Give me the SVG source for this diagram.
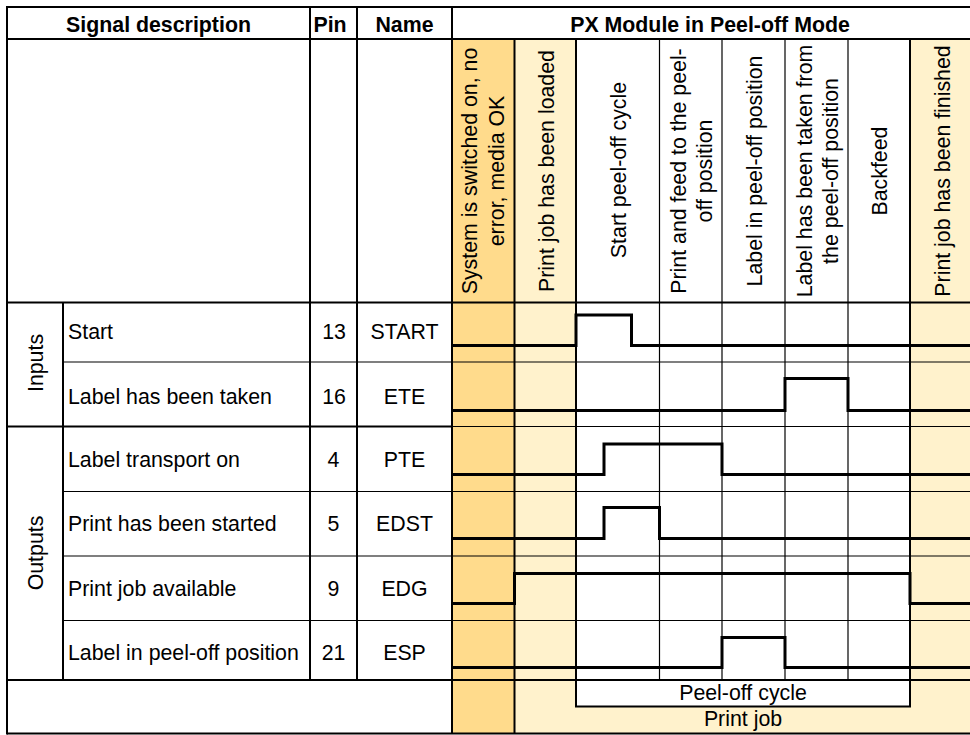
<svg xmlns="http://www.w3.org/2000/svg" width="970" height="735" viewBox="0 0 970 735">
  <style>
    .t { font-family: "Liberation Sans", Arial, sans-serif; font-size: 21.33px; fill: #000; }
    .b { font-weight: bold; }
    .m { text-anchor: middle; }
    .thick { stroke: #000; stroke-width: 2; fill: none; }
    .thin { stroke: #000; stroke-width: 1.2; fill: none; }
    .sig { stroke: #000; stroke-width: 3; fill: none; stroke-linejoin: miter; }
    .orange { fill: #FFDB8C; }
    .light { fill: #FFF2CC; }
  </style>

  <rect x="0" y="0" width="970" height="735" fill="#fff"/>

  <!-- background fills -->
  <g id="fills">
    <rect class="orange" x="452" y="39" width="62.5" height="695"/>
    <rect class="light" x="514.5" y="39" width="61.5" height="641"/>
    <rect class="light" x="910" y="39" width="62" height="641"/>
    <rect class="light" x="514.5" y="680" width="458" height="54"/>
  </g>

  <!-- grid lines -->
  <g id="grid">
    <!-- thin row lines -->
    <line class="thin" x1="63" y1="362" x2="972" y2="362"/>
    <line class="thin" x1="452" y1="426.5" x2="972" y2="426.5"/>
    <line class="thin" x1="63" y1="491.5" x2="972" y2="491.5"/>
    <line class="thin" x1="63" y1="556" x2="972" y2="556"/>
    <line class="thin" x1="63" y1="620.5" x2="972" y2="620.5"/>
    <!-- thin column lines -->
    <line class="thin" x1="659.5" y1="39" x2="659.5" y2="680"/>
    <line class="thin" x1="722" y1="39" x2="722" y2="680"/>
    <line class="thin" x1="785" y1="39" x2="785" y2="680"/>
    <line class="thin" x1="848" y1="39" x2="848" y2="680"/>
    <!-- thick lines -->
    <line class="thick" x1="7" y1="7" x2="972" y2="7"/>
    <line class="thick" x1="7" y1="39" x2="972" y2="39"/>
    <line class="thick" x1="7" y1="302.5" x2="972" y2="302.5"/>
    <line class="thick" x1="7" y1="426.5" x2="452" y2="426.5"/>
    <line class="thick" x1="7" y1="680" x2="972" y2="680"/>
    <line class="thick" x1="7" y1="733.5" x2="972" y2="733.5"/>
    <line class="thick" x1="7" y1="6" x2="7" y2="734.5"/>
    <line class="thick" x1="63" y1="302.5" x2="63" y2="680"/>
    <line class="thick" x1="310" y1="7" x2="310" y2="680"/>
    <line class="thick" x1="357" y1="7" x2="357" y2="680"/>
    <line class="thick" x1="452" y1="7" x2="452" y2="733.5"/>
    <line class="thick" x1="514.5" y1="39" x2="514.5" y2="733.5"/>
  </g>

  <!-- peel-off cycle box -->
  <g id="peel-off-cycle">
    <rect x="576" y="680" width="334" height="26.5" fill="#fff" stroke="#000" stroke-width="2"/>
    <text class="t m" x="743" y="700">Peel-off cycle</text>
  </g>
  <g id="print-job">
    <text class="t m" x="743" y="726">Print job</text>
  </g>

  <g id="grid-thick-cols">
    <line class="thick" x1="576" y1="39" x2="576" y2="706.5"/>
    <line class="thick" x1="910" y1="39" x2="910" y2="706.5"/>
  </g>

  <!-- header row -->
  <g id="header">
    <text class="t b m" x="158.5" y="32.3">Signal description</text>
    <text class="t b m" x="330" y="32.3">Pin</text>
    <text class="t b m" x="404.5" y="32.3">Name</text>
    <text class="t b m" x="710" y="32.3">PX Module in Peel-off Mode</text>
  </g>

  <!-- column headers (phases) -->
  <g id="phase-1">
    <text class="t m" transform="translate(477,171) rotate(-90)">System is switched on, no</text>
    <text class="t m" transform="translate(503.5,171) rotate(-90)">error, media OK</text>
  </g>
  <g id="phase-2">
    <text class="t m" transform="translate(554,171) rotate(-90)">Print job has been loaded</text>
  </g>
  <g id="phase-3">
    <text class="t m" transform="translate(626,170) rotate(-90)">Start peel-off cycle</text>
  </g>
  <g id="phase-4">
    <text class="t m" transform="translate(686,171) rotate(-90)">Print and feed to the peel-</text>
    <text class="t m" transform="translate(712,171) rotate(-90)">off position</text>
  </g>
  <g id="phase-5">
    <text class="t m" transform="translate(762,171) rotate(-90)">Label in peel-off position</text>
  </g>
  <g id="phase-6">
    <text class="t m" transform="translate(811.5,171) rotate(-90)">Label has been taken from</text>
    <text class="t m" transform="translate(837.5,171) rotate(-90)">the peel-off position</text>
  </g>
  <g id="phase-7">
    <text class="t m" transform="translate(887,171) rotate(-90)">Backfeed</text>
  </g>
  <g id="phase-8">
    <text class="t m" transform="translate(949.5,171) rotate(-90)">Print job has been finished</text>
  </g>

  <!-- group labels -->
  <g id="inputs-label">
    <text class="t m" transform="translate(42.7,363) rotate(-90)">Inputs</text>
  </g>
  <g id="outputs-label">
    <text class="t m" transform="translate(43,553) rotate(-90)">Outputs</text>
  </g>

  <!-- signal rows -->
  <g id="row-start">
    <text class="t" x="68" y="339">Start</text>
    <text class="t m" x="334" y="339">13</text>
    <text class="t m" x="404.5" y="339">START</text>
  </g>
  <g id="row-ete">
    <text class="t" x="68" y="404">Label has been taken</text>
    <text class="t m" x="334" y="404">16</text>
    <text class="t m" x="404.5" y="404">ETE</text>
  </g>
  <g id="row-pte">
    <text class="t" x="68" y="466.7">Label transport on</text>
    <text class="t m" x="333.5" y="466.7">4</text>
    <text class="t m" x="404.5" y="466.7">PTE</text>
  </g>
  <g id="row-edst">
    <text class="t" x="68" y="530.7">Print has been started</text>
    <text class="t m" x="333.5" y="530.7">5</text>
    <text class="t m" x="404.5" y="530.7">EDST</text>
  </g>
  <g id="row-edg">
    <text class="t" x="68" y="595.7">Print job available</text>
    <text class="t m" x="333.5" y="595.7">9</text>
    <text class="t m" x="404.5" y="595.7">EDG</text>
  </g>
  <g id="row-esp">
    <text class="t" x="68" y="660">Label in peel-off position</text>
    <text class="t m" x="333.5" y="660">21</text>
    <text class="t m" x="404.5" y="660">ESP</text>
  </g>

  <!-- signal waveforms -->
  <g id="waveforms">
    <polyline class="sig" points="452,345.5 576,345.5 576,315 631.5,315 631.5,345.5 972,345.5"/>
    <polyline class="sig" points="452,410.5 785,410.5 785,378.5 848,378.5 848,410.5 972,410.5"/>
    <polyline class="sig" points="452,474.5 604,474.5 604,444 722,444 722,474.5 972,474.5"/>
    <polyline class="sig" points="452,538.5 604,538.5 604,507.5 659.5,507.5 659.5,538.5 972,538.5"/>
    <polyline class="sig" points="452,603.5 514.5,603.5 514.5,573.5 910,573.5 910,603.5 972,603.5"/>
    <polyline class="sig" points="452,667.5 722,667.5 722,637.5 785,637.5 785,667.5 972,667.5"/>
  </g>
</svg>
